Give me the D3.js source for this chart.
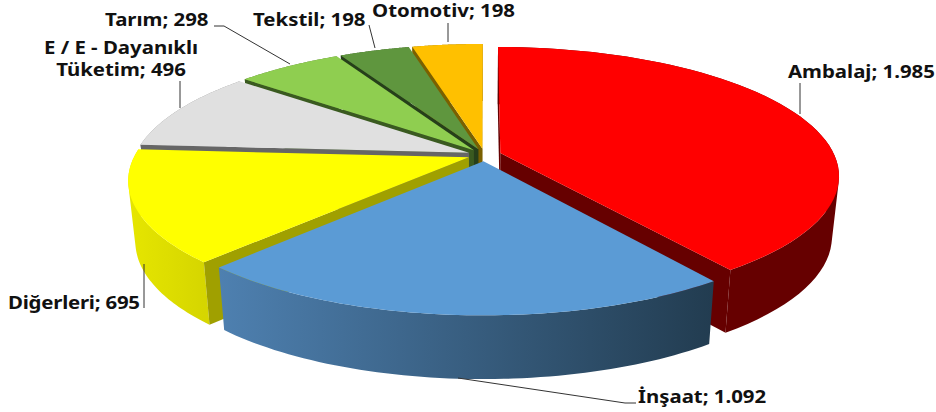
<!DOCTYPE html>
<html>
<head>
<meta charset="utf-8">
<script src="https://cdn.jsdelivr.net/npm/d3@7"></script>
<style>
  html, body { margin: 0; padding: 0; background: #fff; }
  text { font-family: "Noto Sans", sans-serif; font-weight: 700; font-size: 17px; fill: #111; }
</style>
</head>
<body>
<div id="container"></div>
<script>
var categories = ["Ambalaj", "İnşaat", "Diğerleri", "E / E - Dayanıklı Tüketim", "Tarım", "Tekstil", "Otomotiv"];
var values = [1985, 1092, 695, 496, 298, 198, 198];

var topColors = ["#ff0000", "#5b9bd5", "#ffff00", "#e0e0e0", "#8fce50", "#5f963e", "#ffc000"];
var wallColors = ["#660000", "#243f55", "#a0a000", "#666666", "#3a5a20", "#263f1a", "#7a6000"];
var sideStart = ["#660000", "#4e80b0", "#e6e600", "#8c8c8c", "#567c30", "#3a5c26", "#997300"];
var sideEnd = ["#660000", "#223c50", "#d6d600", "#8c8c8c", "#567c30", "#3a5c26", "#997300"];

// draw from the back to the front, painter style
var drawOrder = [6, 5, 4, 3, 2, 0, 1];

// label layout: left edge, baselines, and leader polyline
var labelLayout = [
  {x: 788, y: [78], leader: [[800, 83], [800, 114]]},
  {x: 638, y: [403], leader: [[636, 403], [625, 403], [458, 378]]},
  {x: 8, y: [309], textLength: 132, leader: [[144, 308], [144, 264]]},
  {x: 121, y: [54, 76], anchor: "middle", lines: ["E / E - Dayanıklı", "Tüketim; 496"], leader: [[180, 81], [180, 108]]},
  {x: 105, y: [26], leader: [[214, 26], [224, 26], [290, 64]]},
  {x: 253, y: [26], leader: [[369, 25], [375, 48]]},
  {x: 372, y: [17], leader: [[448, 23], [448, 42]]}
];

var width = 936, height = 412;
var cx = 484.5, cy = 155;
var rx = 334, ry = 125;
var persp = 5.78;      // camera distance, in pie radii
var explode = 0.05;    // slice pull-out, in pie radii
var depth = 60;        // height of the extruded side
var shrink = 0.98;     // bottom face converges toward the centre
var textStretch = 1.2; // the source labels are stretched sideways

var fmt = d3.formatLocale({decimal: ",", thousands: ".", grouping: [3], currency: ["", ""]}).format(",");

var svg = d3.select("#container")
    .append("svg")
    .attr("width", width)
    .attr("height", height)
    .style("display", "block");

var defs = svg.append("defs");

var xScale = d3.scaleLinear().domain([-1, 1]).range([cx - rx, cx + rx]);
var yScale = d3.scaleLinear().domain([-1, 1]).range([cy + ry, cy - ry]);

// world point on the pie plane -> screen, bottom=true gives the lower face
function project(u, v, bottom) {
  var s = persp / (persp + v);
  var x = xScale(u * s), y = yScale(v * s);
  if (bottom) {
    x = cx + (x - cx) * shrink;
    y = y + depth * Math.pow(s, 0.3);
  }
  return [x, y];
}

var pie = d3.pie().sort(null).startAngle(0).endAngle(2 * Math.PI);
var arcs = pie(values);
var line = d3.line();

function worldAt(d, r, angle) {
  var mid = (d.startAngle + d.endAngle) / 2;
  return [explode * Math.sin(mid) + r * Math.sin(angle),
          explode * Math.cos(mid) + r * Math.cos(angle)];
}

function rimPoints(d, bottom) {
  var pts = d3.range(0, 61).map(function(i) {
    var a = d.startAngle + (d.endAngle - d.startAngle) * i / 60;
    var w = worldAt(d, 1, a);
    return project(w[0], w[1], bottom);
  });
  return pts;
}

function apex(d, bottom) {
  var w = worldAt(d, 0, 0);
  return project(w[0], w[1], bottom);
}

// curved side as quads, all wound the same way, so the silhouette stays straight
function sidePath(top, bot) {
  return d3.range(0, 60).map(function(i) {
    var q = [top[i], top[i + 1], bot[i + 1], bot[i]];
    if (d3.polygonArea(q) < 0) q.reverse();
    return line(q) + "Z";
  }).join("");
}

values.forEach(function(v, i) {
  var g = defs.append("linearGradient")
      .attr("id", "side" + i)
      .attr("gradientUnits", "userSpaceOnUse")
      .attr("x1", d3.min(rimPoints(arcs[i]), function(p) { return p[0]; }))
      .attr("x2", d3.max(rimPoints(arcs[i]), function(p) { return p[0]; }))
      .attr("y1", 0).attr("y2", 0);
  g.append("stop").attr("offset", 0).attr("stop-color", sideStart[i]);
  g.append("stop").attr("offset", 1).attr("stop-color", sideEnd[i]);
});

var slices = svg.selectAll("g.slice")
    .data(drawOrder)
    .enter()
    .append("g")
    .attr("class", "slice");

slices.each(function(i) {
  var d = arcs[i], g = d3.select(this);
  var top = rimPoints(d, false), bot = rimPoints(d, true);
  var a = apex(d, false), b = apex(d, true);

  // outer curved side
  g.append("path")
    .attr("d", sidePath(top, bot))
    .attr("fill", "url(#side" + i + ")");

  // radial cut walls, only the ones that face the camera
  var startWall = [a, top[0], bot[0], b], endWall = [a, top[60], bot[60], b];
  if (d3.polygonArea(startWall) > 0) {
    g.append("path").attr("d", line(startWall) + "Z").attr("fill", wallColors[i]);
  }
  if (d3.polygonArea(endWall) < 0) {
    g.append("path").attr("d", line(endWall) + "Z").attr("fill", wallColors[i]);
  }

  // top face
  g.append("path")
    .attr("d", line([a].concat(top)) + "Z")
    .attr("fill", topColors[i]);
});

// leaders
svg.selectAll("path.leader")
    .data(labelLayout)
    .enter()
    .append("path")
    .attr("class", "leader")
    .attr("d", function(d) { return line(d.leader); })
    .attr("fill", "none")
    .attr("stroke", "#333")
    .attr("stroke-width", 1);

// labels
labelLayout.forEach(function(l, i) {
  var lines = l.lines || [categories[i] + "; " + fmt(values[i])];
  lines.forEach(function(t, k) {
    var label = svg.append("text")
      .attr("transform", "translate(" + l.x + "," + l.y[k] + ") scale(" + textStretch + ",1)")
      .attr("text-anchor", l.anchor || "start")
      .text(t);
    if (l.textLength) label.attr("textLength", l.textLength / textStretch);
  });
});
</script>
</body>
</html>
